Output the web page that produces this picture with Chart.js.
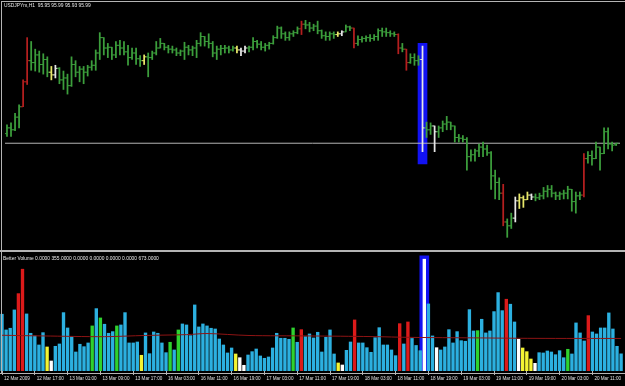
<!DOCTYPE html>
<html>
<head>
<meta charset="utf-8">
<script src="https://cdn.jsdelivr.net/npm/chart.js@4.4.1/dist/chart.umd.min.js"></script>
<style>
  html, body { margin: 0; padding: 0; background: #000; }
  #wrap { position: relative; width: 625px; height: 386px; overflow: hidden; background: #000; }
  #priceBox { position: absolute; left: 0; top: 0; width: 625px; height: 250px; }
  #volBox { position: absolute; left: 0; top: 253px; width: 625px; height: 133px; }
  .ln { position: absolute; background: #b4b4b4; }
  .txt { position: absolute; color: #e8e8e8; font: 4.9px "Liberation Sans", Arial, sans-serif; white-space: pre; }
</style>
</head>
<body>
<div id="wrap">
  <div id="priceBox"><canvas id="priceChart"></canvas></div>
  <div id="volBox"><canvas id="volChart"></canvas></div>
  <div class="ln" style="left:1px;top:1px;width:624px;height:1px"></div>
  <div class="ln" style="left:1px;top:1px;width:1px;height:373px"></div>
  <div class="ln" style="left:0;top:250px;width:625px;height:2px"></div>
  <div class="ln" style="left:0;top:373px;width:625px;height:1px"></div>
  <div class="txt" style="left:4px;top:3px">USDJPYm,H1  95.95 95.99 95.93 95.99</div>
  <div class="txt" style="left:3px;top:256px">Better Volume 0.0000 355.0000 0.0000 0.0000 0.0000 0.0000 673.0000</div>
</div>
<script>
// USDJPYm H1, 12-20 Mar 2009
const opens = [
  96.24, 96.39, 96.34, 96.67, 96.94, 97.59, 98.14, 98.09, 98.29, 98.04,
  98.17, 97.84, 97.77, 97.94, 97.64, 97.69, 97.49, 98.04, 97.84, 97.92,
  97.84, 97.97, 98.02, 98.34, 98.74, 98.47, 98.49, 98.29, 98.54, 98.47,
  98.37, 98.22, 98.34, 98.19, 98.14, 98.24, 98.22, 98.34, 98.47, 98.59,
  98.49, 98.44, 98.42, 98.34, 98.39, 98.49, 98.42, 98.47, 98.59, 98.77,
  98.64, 98.59, 98.34, 98.44, 98.46, 98.47, 98.42, 98.47, 98.42, 98.39,
  98.47, 98.49, 98.64, 98.57, 98.49, 98.54, 98.59, 98.74, 98.99, 98.84,
  98.74, 98.84, 98.87, 98.97, 99.09, 99.07, 98.99, 99.04, 98.92, 98.79,
  98.77, 98.84, 98.82, 98.84, 98.89, 99.02, 98.99, 98.59, 98.69, 98.72,
  98.74, 98.72, 98.77, 98.92, 98.89, 98.87, 98.84, 98.82, 98.47, 98.44,
  98.09, 98.22, 98.14, 98.17, 96.39, 96.34, 96.44, 96.29, 96.39, 96.49,
  96.54, 96.44, 96.14, 96.12, 96.09, 95.64, 95.69, 95.79, 95.89, 95.84,
  95.74, 95.14, 94.97, 94.69, 93.94, 93.84, 94.04, 94.49, 94.57, 94.52,
  94.64, 94.59, 94.57, 94.62, 94.74, 94.79, 94.69, 94.62, 94.67, 94.69,
  94.79, 94.47, 94.62, 94.64, 95.59, 95.67, 95.59, 95.89, 95.72, 96.29,
  95.97, 95.95
];
const highs = [
  96.47, 96.52, 96.77, 96.99, 97.64, 98.74, 98.64, 98.44, 98.39, 98.32,
  98.24, 97.99, 98.02, 97.96, 97.87, 97.79, 98.24, 98.14, 97.99, 97.99,
  98.02, 98.14, 98.42, 98.87, 98.74, 98.59, 98.49, 98.64, 98.67, 98.64,
  98.54, 98.47, 98.47, 98.27, 98.29, 98.34, 98.39, 98.64, 98.72, 98.59,
  98.54, 98.52, 98.47, 98.42, 98.62, 98.54, 98.52, 98.67, 98.87, 98.77,
  98.84, 98.64, 98.52, 98.54, 98.54, 98.52, 98.52, 98.52, 98.47, 98.52,
  98.52, 98.74, 98.67, 98.64, 98.59, 98.62, 98.79, 99.04, 99.02, 98.89,
  98.89, 98.92, 99.02, 99.17, 99.19, 99.14, 99.09, 99.17, 98.94, 98.89,
  98.89, 98.89, 98.89, 98.92, 99.07, 99.04, 98.99, 98.79, 98.77, 98.79,
  98.82, 98.82, 98.97, 98.99, 98.99, 98.92, 98.89, 98.84, 98.59, 98.44,
  98.32, 98.32, 98.27, 98.52, 96.54, 96.52, 96.44, 96.44, 96.57, 96.69,
  96.54, 96.44, 96.22, 96.19, 96.14, 95.82, 95.84, 95.97, 96.02, 95.94,
  95.77, 95.29, 95.09, 94.92, 94.02, 94.17, 94.59, 94.67, 94.62, 94.72,
  94.67, 94.67, 94.69, 94.84, 94.89, 94.89, 94.72, 94.72, 94.77, 94.87,
  94.79, 94.72, 94.72, 95.72, 95.77, 95.79, 96.02, 95.89, 96.39, 96.39,
  96.02, 95.99
];
const lows = [
  96.17, 96.17, 96.32, 96.39, 96.94, 97.52, 97.89, 97.87, 97.84, 97.79,
  97.72, 97.64, 97.69, 97.54, 97.39, 97.27, 97.47, 97.72, 97.59, 97.54,
  97.74, 97.89, 97.89, 98.17, 98.29, 98.22, 98.17, 98.22, 98.29, 98.29,
  98.02, 98.17, 98.04, 97.99, 98.04, 97.72, 98.17, 98.29, 98.47, 98.42,
  98.34, 98.34, 98.27, 98.27, 98.17, 98.29, 98.27, 98.22, 98.52, 98.52,
  98.47, 98.24, 98.17, 98.29, 98.34, 98.34, 98.39, 98.34, 98.27, 98.34,
  98.37, 98.42, 98.47, 98.42, 98.39, 98.44, 98.57, 98.72, 98.72, 98.67,
  98.67, 98.77, 98.84, 98.82, 98.97, 98.89, 98.92, 98.84, 98.72, 98.67,
  98.67, 98.72, 98.77, 98.79, 98.89, 98.92, 98.47, 98.54, 98.62, 98.64,
  98.64, 98.67, 98.67, 98.77, 98.77, 98.77, 98.77, 98.32, 98.37, 97.89,
  98.07, 98.02, 98.02, 95.77, 96.14, 96.22, 95.77, 96.14, 96.29, 96.34,
  96.34, 96.02, 96.02, 96.02, 95.29, 95.52, 95.52, 95.64, 95.64, 95.67,
  94.79, 94.54, 94.52, 93.84, 93.54, 93.77, 93.94, 94.29, 94.32, 94.52,
  94.52, 94.49, 94.52, 94.54, 94.59, 94.59, 94.52, 94.52, 94.54, 94.54,
  94.22, 94.17, 94.52, 94.59, 95.47, 95.42, 95.59, 95.29, 95.72, 95.84,
  95.79, 95.93
];
const closes = [
  96.39, 96.34, 96.67, 96.94, 97.59, 98.14, 98.09, 98.29, 98.04, 98.17,
  97.84, 97.77, 97.94, 97.64, 97.69, 97.49, 98.04, 97.84, 97.92, 97.84,
  97.97, 98.02, 98.34, 98.74, 98.47, 98.49, 98.29, 98.54, 98.47, 98.37,
  98.22, 98.34, 98.19, 98.14, 98.24, 98.22, 98.34, 98.47, 98.59, 98.49,
  98.44, 98.42, 98.34, 98.39, 98.49, 98.42, 98.47, 98.59, 98.77, 98.64,
  98.59, 98.34, 98.44, 98.46, 98.47, 98.42, 98.47, 98.42, 98.39, 98.47,
  98.49, 98.64, 98.57, 98.49, 98.54, 98.59, 98.74, 98.99, 98.84, 98.74,
  98.84, 98.87, 98.97, 99.09, 99.07, 98.99, 99.04, 98.92, 98.79, 98.77,
  98.84, 98.82, 98.84, 98.89, 99.02, 98.99, 98.59, 98.69, 98.72, 98.74,
  98.72, 98.77, 98.92, 98.89, 98.87, 98.84, 98.82, 98.47, 98.44, 98.09,
  98.22, 98.14, 98.17, 96.39, 96.34, 96.44, 96.29, 96.39, 96.49, 96.54,
  96.44, 96.14, 96.12, 96.09, 95.64, 95.69, 95.79, 95.89, 95.84, 95.74,
  95.14, 94.97, 94.69, 93.94, 93.84, 94.04, 94.49, 94.57, 94.52, 94.64,
  94.59, 94.57, 94.62, 94.74, 94.79, 94.69, 94.62, 94.67, 94.69, 94.79,
  94.47, 94.62, 94.64, 95.59, 95.67, 95.59, 95.89, 95.72, 96.29, 95.97,
  95.94, 95.99
];

// Better Volume histogram (tick volume) and its bar type
const volumes = [
  1174, 849, 884, 1263, 1600, 2105, 1180, 780, 725, 538,
  793, 497, 207, 511, 559, 1207, 890, 710, 393, 553,
  503, 580, 932, 1290, 1097, 967, 780, 814, 932, 952,
  1207, 580, 580, 600, 325, 787, 358, 807, 780, 580,
  379, 594, 435, 849, 973, 952, 731, 1366, 911, 973,
  932, 884, 869, 662, 538, 373, 476, 352, 275, 118,
  331, 400, 455, 311, 263, 290, 476, 780, 677, 677,
  656, 890, 594, 855, 710, 766, 683, 801, 393, 698,
  849, 352, 166, 124, 428, 600, 1056, 580, 580, 482,
  387, 689, 896, 538, 538, 435, 317, 979, 559, 1014,
  673, 528, 420, 2312, 1387, 725, 482, 435, 497, 855,
  580, 814, 627, 615, 1269, 828, 834, 1070, 787, 828,
  1228, 1621, 1248, 1484, 1381, 1014, 656, 476, 400, 248,
  159, 379, 373, 414, 393, 337, 420, 275, 449, 352,
  994, 787, 621, 1145, 807, 766, 890, 890, 1201, 869,
  511, 355
];
// b = neutral, r = climax, g = climax low, y = churn, w = low volume
const volTypes = (
  'bbbbrrbbbb' + 'bywbbbbbbb' + 'bbgbgbbbgb' + 'bbbbybbbbb' + 'bgbgbbbbbb' +
  'bbbbbbbyww' + 'bbbbbbbbbb' + 'bgbrbbbbbb' + 'bbywbbrbbb' + 'bbbbbbbrbr' +
  'bbbwbbwbbb' + 'bbbbbbgbbb' + 'bbbrbbwyyy' + 'wbbbbbbbgb' + 'bbbrbbbbbb' + 'bb'
).split('');

// moving average of volume (sampled points)
const maBars = [0, 10, 25, 35, 45, 50, 60, 75, 90, 100, 115, 130, 151];
const maValues = [739, 725, 710, 735, 752, 775, 735, 725, 712, 695, 685, 675, 673];

// highlighted bar (FOMC hour) and current bid
const markBar = 103;
const markPriceRange = [95.45, 98.59];
const markVolume = 2380;
const bidPrice = 95.99;

// time scale
const timeLabelBars = [0, 8, 16, 24, 32, 40, 48, 56, 64, 72, 80, 88, 96, 104, 112, 120, 128, 136, 144];
const timeLabels = [
  '12 Mar 2009', '12 Mar 17:00', '13 Mar 01:00', '13 Mar 09:00', '13 Mar 17:00',
  '16 Mar 03:00', '16 Mar 11:00', '16 Mar 19:00', '17 Mar 03:00', '17 Mar 11:00',
  '17 Mar 19:00', '18 Mar 03:00', '18 Mar 11:00', '18 Mar 19:00', '19 Mar 03:00',
  '19 Mar 11:00', '19 Mar 19:00', '20 Mar 03:00', '20 Mar 11:00'
];

document.addEventListener('DOMContentLoaded', function() {
    Chart.defaults.animation = false;
    Chart.defaults.events = [];
    Chart.defaults.plugins.legend.display = false;
    Chart.defaults.plugins.tooltip.enabled = false;

    const xMin = -0.49, xMax = 151.95; // 4.1 px per bar over 625 px

    const volColors = { b: '#2cb0e0', r: '#dc1a1a', g: '#2fd22f', y: '#f4f433', w: '#ffffff' };
    const priceColors = { b: '#3c9e3c', g: '#3c9e3c', r: '#b41f1f', y: '#e8e86a', w: '#e6e6e6' };
    const barCols = volTypes.map(t => priceColors[t]);

    const xScale = {
        type: 'linear', min: xMin, max: xMax, offset: false,
        display: false, grid: { offset: false }
    };

    // price panel: H-L bars with open/close ticks
    new Chart(document.getElementById('priceChart'), {
        type: 'bar',
        data: {
            datasets: [
                {
                    data: highs.map((h, i) => ({ x: i, y: [lows[i], h] })),
                    backgroundColor: barCols,
                    barThickness: 1.1,
                    grouped: false,
                    order: 2
                },
                {
                    type: 'line',
                    data: opens.map((o, i) => ({ x: i - 0.3, y: o })),
                    showLine: false,
                    pointStyle: 'line',
                    pointRadius: 1,
                    pointBorderWidth: 1,
                    pointBorderColor: barCols,
                    order: 1
                },
                {
                    type: 'line',
                    data: closes.map((c, i) => ({ x: i + 0.3, y: c })),
                    showLine: false,
                    pointStyle: 'line',
                    pointRadius: 1,
                    pointBorderWidth: 1,
                    pointBorderColor: barCols,
                    order: 1
                },
                {
                    type: 'line',
                    data: [{ x: xMin, y: bidPrice }, { x: xMax, y: bidPrice }],
                    borderColor: '#b4b4b4',
                    borderWidth: 1,
                    pointRadius: 0,
                    order: 5
                },
                {
                    data: [{ x: markBar, y: markPriceRange }],
                    backgroundColor: '#1212f2',
                    barThickness: 9,
                    grouped: false,
                    order: 9
                }
            ]
        },
        options: {
            responsive: true,
            maintainAspectRatio: false,
            layout: { padding: 0 },
            scales: {
                x: xScale,
                y: { display: false, min: 93.34, max: 99.59 }
            }
        }
    });

    // volume panel
    new Chart(document.getElementById('volChart'), {
        type: 'bar',
        data: {
            datasets: [
                {
                    data: volumes.map((v, i) => ({ x: i, y: v })),
                    backgroundColor: volTypes.map(t => volColors[t]),
                    barThickness: 2.7,
                    grouped: false,
                    order: 2
                },
                {
                    type: 'line',
                    data: maBars.map((b, k) => ({ x: b, y: maValues[k] })),
                    borderColor: '#8e1414',
                    borderWidth: 1,
                    pointRadius: 0,
                    tension: 0.3,
                    order: 1
                },
                {
                    data: [{ x: markBar, y: markVolume }],
                    backgroundColor: '#1212f2',
                    barThickness: 9,
                    grouped: false,
                    order: 9
                }
            ]
        },
        options: {
            responsive: true,
            maintainAspectRatio: false,
            layout: { padding: 0 },
            scales: {
                x: {
                    type: 'linear', min: xMin, max: xMax, offset: false,
                    grid: { offset: false, drawOnChartArea: false, drawTicks: true, tickLength: 4, tickColor: '#b4b4b4' },
                    border: { display: false },
                    ticks: {
                        color: '#e0e0e0',
                        font: { family: '"Liberation Sans", Arial', size: 4.6 },
                        align: 'start',
                        labelOffset: 2,
                        padding: 1,
                        autoSkip: false,
                        maxRotation: 0,
                        callback: function(value, index) {
                            return timeLabels[index];
                        }
                    },
                    afterBuildTicks: function(scale) {
                        scale.ticks = timeLabelBars.map(v => ({ value: v }));
                    },
                    afterFit: function(scale) {
                        scale.height = 15;
                    }
                },
                y: { display: false, min: 0, max: 2440 }
            }
        }
    });
});
</script>
</body>
</html>
